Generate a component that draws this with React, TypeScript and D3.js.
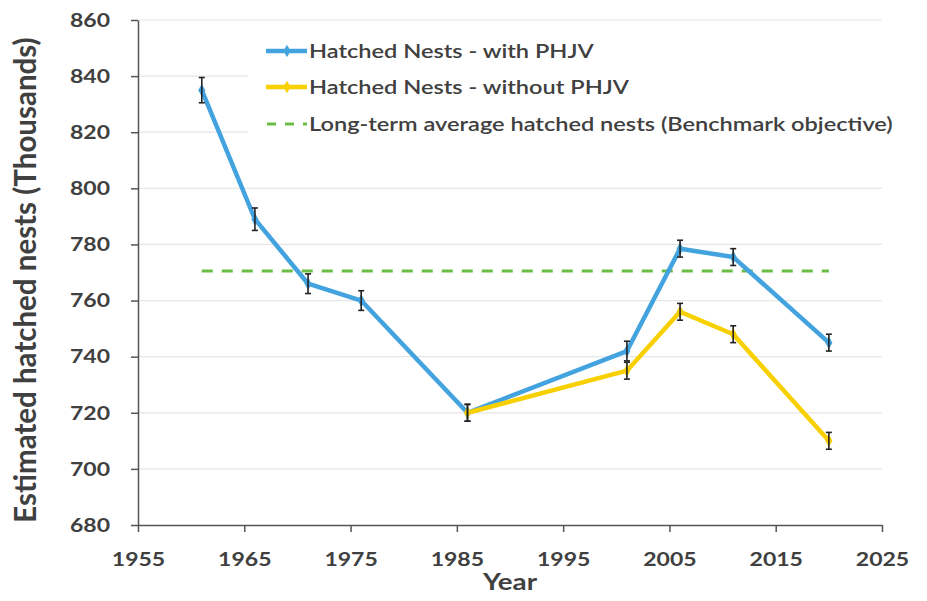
import { useRef, useEffect } from 'react';
import * as d3 from 'd3';

const YEARS_WITH = [1961, 1966, 1971, 1976, 1986, 2001, 2006, 2011, 2020];
const NESTS_WITH = [835, 789, 766, 760, 720, 742, 778.5, 775.5, 745];
const ERR_WITH = [4.5, 4, 3.5, 3.5, 3, 3.5, 3, 3, 3];

const YEARS_WITHOUT = [1986, 2001, 2006, 2011, 2020];
const NESTS_WITHOUT = [720, 735, 756, 748, 710];
const ERR_WITHOUT = [3, 3, 3, 3, 3];

const BENCHMARK = 770.5;
const BENCHMARK_RANGE = [1961, 2020];

const X_TICKS = [1955, 1965, 1975, 1985, 1995, 2005, 2015, 2025];
const Y_TICKS = [680, 700, 720, 740, 760, 780, 800, 820, 840, 860];

const LEGEND_LABELS = [
  'Hatched Nests - with PHJV',
  'Hatched Nests - without PHJV',
  'Long-term average hatched nests (Benchmark objective)',
];

const W = 927;
const H = 601;
const MARGIN = { top: 20, right: 45, bottom: 76, left: 138 };

const BLUE = '#43a3df';
const YELLOW = '#f8d000';
const GREEN = '#6cbd45';
const TEXT = '#404040';
const FONT = 'Lato, Carlito, Calibri, sans-serif';
// the original rendering is a bit wider than tall, so text gets a horizontal stretch
const STRETCH = 1.18;

export default function App() {
  const svgRef = useRef<SVGSVGElement>(null);

  useEffect(() => {
    const svg = svgRef.current;
    if (!svg) return;
    const root = d3.select(svg);
    root.selectAll('*').remove();

    const innerW = W - MARGIN.left - MARGIN.right;
    const innerH = H - MARGIN.top - MARGIN.bottom;

    const x = d3.scaleLinear().domain([1955, 2025]).range([0, innerW]);
    const y = d3.scaleLinear().domain([680, 860]).range([innerH, 0]);

    root.append('rect').attr('width', W).attr('height', H).attr('fill', '#fff');

    const g = root.append('g').attr('transform', `translate(${MARGIN.left},${MARGIN.top})`);

    // Grid lines
    g.selectAll('.grid')
      .data(Y_TICKS.slice(1))
      .join('line')
      .attr('x1', 0)
      .attr('x2', innerW)
      .attr('y1', (d) => y(d))
      .attr('y2', (d) => y(d))
      .attr('stroke', '#e6e6e6')
      .attr('stroke-width', 1.2);

    // Benchmark
    g.append('line')
      .attr('x1', x(BENCHMARK_RANGE[0]))
      .attr('x2', x(BENCHMARK_RANGE[1]))
      .attr('y1', y(BENCHMARK))
      .attr('y2', y(BENCHMARK))
      .attr('stroke', GREEN)
      .attr('stroke-width', 3)
      .attr('stroke-dasharray', '11,9');

    const line = d3
      .line<[number, number]>()
      .x((d) => x(d[0]))
      .y((d) => y(d[1]));

    const drawSeries = (years: number[], vals: number[], color: string) => {
      const pts = years.map((yr, i) => [yr, vals[i]] as [number, number]);
      g.append('path')
        .attr('d', line(pts))
        .attr('fill', 'none')
        .attr('stroke', color)
        .attr('stroke-width', 4.5)
        .attr('stroke-linejoin', 'round');
      g.selectAll(null)
        .data(pts)
        .join('path')
        .attr('d', d3.symbol(d3.symbolDiamond, 45)())
        .attr('transform', (d) => `translate(${x(d[0])},${y(d[1])})`)
        .attr('fill', color);
    };

    drawSeries(YEARS_WITH, NESTS_WITH, BLUE);
    drawSeries(YEARS_WITHOUT, NESTS_WITHOUT, YELLOW);

    const drawErrors = (years: number[], vals: number[], errs: number[]) => {
      years.forEach((yr, i) => {
        const cx = x(yr);
        const y0 = y(vals[i] - errs[i]);
        const y1 = y(vals[i] + errs[i]);
        const eg = g.append('g').attr('stroke', '#222').attr('stroke-width', 1.6);
        eg.append('line').attr('x1', cx).attr('x2', cx).attr('y1', y0).attr('y2', y1);
        eg.append('line').attr('x1', cx - 3).attr('x2', cx + 3).attr('y1', y0).attr('y2', y0);
        eg.append('line').attr('x1', cx - 3).attr('x2', cx + 3).attr('y1', y1).attr('y2', y1);
      });
    };
    drawErrors(YEARS_WITH, NESTS_WITH, ERR_WITH);
    drawErrors(YEARS_WITHOUT, NESTS_WITHOUT, ERR_WITHOUT);

    // Axes
    const xAxis = g
      .append('g')
      .attr('transform', `translate(0,${innerH})`)
      .call(d3.axisBottom(x).tickValues(X_TICKS).tickFormat(d3.format('d')).tickSize(7).tickSizeOuter(0));
    const yAxis = g
      .append('g')
      .call(d3.axisLeft(y).tickValues(Y_TICKS).tickSize(7).tickSizeOuter(0));

    [xAxis, yAxis].forEach((a) => {
      a.select('.domain').attr('stroke', '#555').attr('stroke-width', 1.5);
      a.selectAll('line').attr('stroke', '#555').attr('stroke-width', 1.5);
      a.selectAll('text')
        .attr('fill', TEXT)
        .attr('font-family', FONT)
        .attr('font-weight', 700)
        .attr('font-size', '19.5px')
        .attr('transform', `scale(${STRETCH},1)`);
    });
    xAxis.selectAll('text').attr('y', 41).attr('dy', 0);
    yAxis.selectAll('text').attr('x', -28 / STRETCH);

    // Axis titles
    g.append('text')
      .attr('transform', `translate(${innerW / 2},${innerH + 65}) scale(${STRETCH},1)`)
      .attr('text-anchor', 'middle')
      .attr('fill', TEXT)
      .attr('font-family', FONT)
      .attr('font-weight', 700)
      .attr('font-size', '23.5px')
      .text('Year');

    g.append('text')
      .attr('transform', `translate(${-102},${260}) rotate(-90)`)
      .attr('text-anchor', 'middle')
      .attr('fill', TEXT)
      .attr('font-family', FONT)
      .attr('font-weight', 700)
      .attr('font-size', '29.5px')
      .text('Estimated hatched nests (Thousands)');

    // Legend
    const lg = root.append('g');
    lg.append('rect')
      .attr('x', 248)
      .attr('y', 30)
      .attr('width', 665)
      .attr('height', 116)
      .attr('fill', '#fff');
    const legendColors = [BLUE, YELLOW, GREEN];
    const legendY = [51, 87, 124];
    LEGEND_LABELS.forEach((label, i) => {
      const ly = legendY[i];
      if (i < 2) {
        lg.append('line')
          .attr('x1', 266)
          .attr('x2', 307)
          .attr('y1', ly)
          .attr('y2', ly)
          .attr('stroke', legendColors[i])
          .attr('stroke-width', 4.5);
        lg.append('path')
          .attr('d', d3.symbol(d3.symbolDiamond, 45)())
          .attr('transform', `translate(287,${ly})`)
          .attr('fill', legendColors[i]);
      } else {
        lg.append('line')
          .attr('x1', 267)
          .attr('x2', 307)
          .attr('y1', ly)
          .attr('y2', ly)
          .attr('stroke', legendColors[i])
          .attr('stroke-width', 3)
          .attr('stroke-dasharray', '9,9');
      }
      lg.append('text')
        .attr('transform', `translate(309,${ly}) scale(${STRETCH + 0.03},1)`)
        .attr('dy', '0.35em')
        .attr('fill', TEXT)
        .attr('font-family', FONT)
        .attr('font-weight', 600)
        .attr('font-size', '19.5px')
        .text(label);
    });
  }, []);

  return (
    <svg
      ref={svgRef}
      width={W}
      height={H}
      style={{ position: 'absolute', left: 0, top: 0, display: 'block' }}
    />
  );
}
